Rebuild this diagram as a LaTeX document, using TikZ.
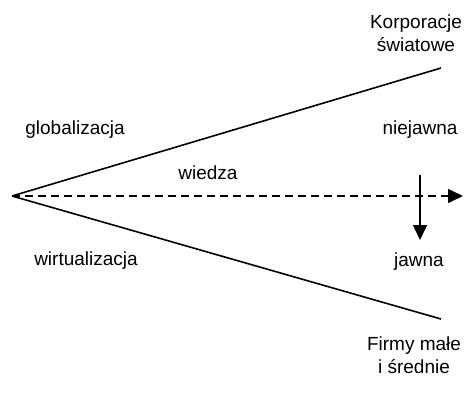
\documentclass[tikz,border=0pt]{standalone}
\usepackage{fontspec}
\setmainfont{Liberation Sans}
\usetikzlibrary{positioning,arrows.meta}

\begin{document}
\begin{tikzpicture}[x=1pt, y=-1pt,
    node distance = 8pt and 4pt,
       arr/.style = {line width=1.6pt, -{Triangle[length=15pt,width=14pt]}},
      edge/.style = {line width=1.6pt},
       lbl/.style = {font=\fontsize{19}{23}\selectfont, align=center,
                     inner sep=0pt},
                    ]
    \useasboundingbox (0,0) rectangle (468,397);
    % ends of the cone
    \coordinate (O)    at (12,196);
    \coordinate (top)  at (441,68);
    \coordinate (bot)  at (441,319);
    \coordinate (tip)  at (463,196);
    \coordinate (up)   at (420,175);
    \coordinate (down) at (420,240);
    %
    \draw[edge] (O) -- (top);
    \draw[edge] (O) -- (bot);
    \draw[arr, dash pattern=on 8pt off 5pt] (O) -- (tip);
    \draw[arr] (up) -- (down);
    %% labels
    \node[lbl] (korp) at (416,33) {Korporacje\\światowe};
    \node[lbl] (firmy) at (414,355) {Firmy małe\\i średnie};
    \node[lbl] (glob) at (75,130) {globalizacja};
    \node[lbl] (wirt) at (86,261) {wirtualizacja};
    \node[lbl] (wiedza) at (208,173) {wiedza};
    \node[lbl] (niejawna) at (420,130) {niejawna};
    \node[lbl] (jawna) at (419,262) {jawna};
\end{tikzpicture}
\end{document}
